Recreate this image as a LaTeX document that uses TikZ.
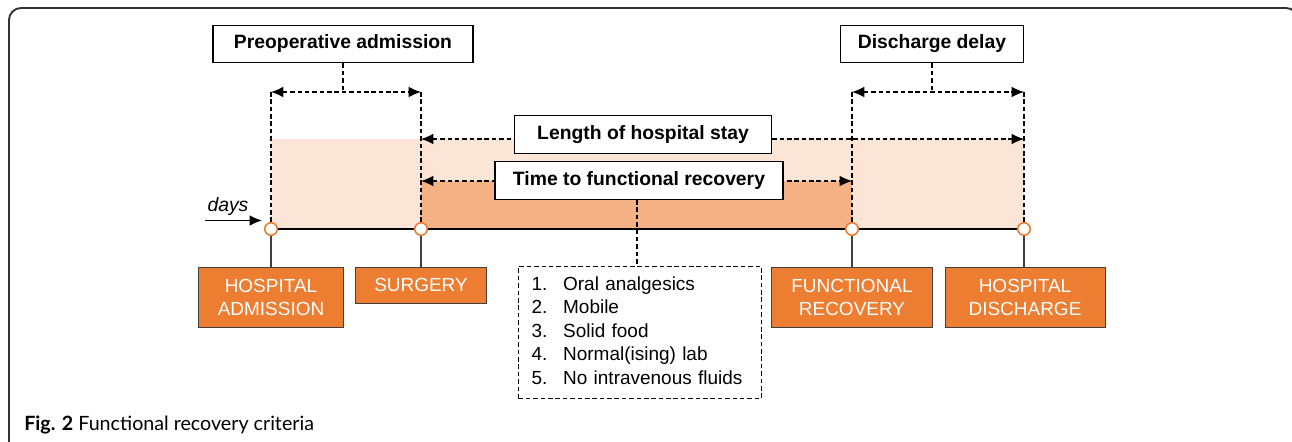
\documentclass[tikz,border=0pt]{standalone}
\usepackage{fontspec}
\setmainfont{Liberation Sans}
\newfontfamily\capfont{Lato}
\usetikzlibrary{arrows.meta}
\definecolor{orng}{HTML}{ED7D31}
\definecolor{lpeach}{HTML}{FBE5D6}
\definecolor{dpeach}{HTML}{F4B183}
\definecolor{edge}{HTML}{404040}
\tikzset{
	tag/.style      = {draw, line width=0.8pt, fill=white, inner sep=0pt,
		minimum height=0.75cm, font=\fontsize{11}{13}\selectfont\bfseries},
	event/.style    = {draw=edge, fill=orng, text=white, align=center,
		anchor=north, inner sep=0pt, font=\fontsize{10.8}{13}\selectfont},
	dot/.style      = {circle, draw=orng, fill=white, line width=0.9pt,
		inner sep=0pt, minimum size=0.25cm},
	guide/.style    = {dash pattern=on 2.6pt off 1.6pt, line width=0.6pt},
	span/.style     = {guide, <->},
	crit/.style     = {draw, guide, anchor=north, text width=4.34cm, align=left,
		inner xsep=7.4pt, minimum height=2.64cm,
		font=\fontsize{10.8}{13.4}\selectfont},
	frame/.style    = {draw=black!80, line width=1.1pt, rounded corners=0.24cm}
}

\begin{document}
\begin{tikzpicture}[x=0.02cm, y=-0.02cm, >={Latex[length=7pt,width=6pt]}]
	\useasboundingbox (0,0) rectangle (1292,442);
	\draw[frame] (9,450) -- (9,8) -- (1298,8) -- (1298,450);
	
	% shaded stays
	\fill[lpeach] (271,139) rectangle (1024,229);
	\fill[dpeach] (421,181) rectangle (852,229);
	
	\coordinate (t1up) at (271,92);
	\coordinate (t2up) at (421,92);
	\coordinate (t3up) at (852,92);
	\coordinate (t4up) at (1024,92);
	\coordinate (s1) at (421,139);
	\coordinate (s2) at (1024,139);
	\coordinate (r1) at (421,181);
	\coordinate (r2) at (852,181);
	
	\draw
	node at (271,229) [dot] (t1) {}
	node at (421,229) [dot] (t2) {}
	node at (852,229) [dot] (t3) {}
	node at (1024,229) [dot] (t4) {};
	
	\draw[guide] (t1) -- (t1up);
	\draw[guide] (t2) -- (t2up);
	\draw[guide] (t3) -- (t3up);
	\draw[guide] (t4) -- (t4up);
	
	\draw[line width=1.6pt] (t1) -- (t2) (t2) -- (t3) (t3) -- (t4);
	
	\draw[span] (t1up) -- (t2up);
	\draw[span] (t3up) -- (t4up);
	\draw[span] (s1) -- (s2);
	\draw[span] (r1) -- (r2);
	
	\draw
	node at (343,44) [tag, minimum width=5.2cm] (preop) {Preoperative admission}
	node at (932,44) [tag, minimum width=3.66cm] (delay) {Discharge delay}
	node at (643,134.5) [tag, minimum width=5.14cm] (stay) {Length of hospital stay}
	node at (639,180.5) [tag, minimum width=5.76cm] (recov) {Time to functional recovery};
	
	\draw[guide] (preop.south) -- (preop.south |- t1up);
	\draw[guide] (delay.south) -- (delay.south |- t3up);
	
	\draw
	node at (640,266) [crit] (list) {\begin{tabular}{@{}l@{\hspace{9pt}}l@{}}
			1. & Oral analgesics\\
			2. & Mobile\\
			3. & Solid food\\
			4. & Normal(ising) lab\\
			5. & No intravenous fluids
		\end{tabular}};
	\draw[guide] (recov.south -| 637,0) -- (list.north -| 637,0);
	
	\draw
	node at (271,267) [event, minimum width=2.9cm, minimum height=1.2cm] (adm) {HOSPITAL\\ADMISSION}
	node at (421,267) [event, minimum width=2.62cm, minimum height=0.72cm] (surg) {SURGERY}
	node at (852,267) [event, minimum width=3.22cm, minimum height=1.2cm] (func) {FUNCTIONAL\\RECOVERY}
	node at (1025,267) [event, minimum width=3.2cm, minimum height=1.2cm] (dis) {HOSPITAL\\DISCHARGE};
	
	\draw[edge, line width=0.8pt] (t1) -- (adm);
	\draw[edge, line width=0.8pt] (t2) -- (surg);
	\draw[edge, line width=0.8pt] (t3) -- (func);
	\draw[edge, line width=0.8pt] (t4) -- (dis.north -| t4);
	
	% time axis
	\coordinate (d0) at (205,220.5);
	\coordinate (d1) at (262,220.5);
	\draw[->, line width=0.7pt] (d0) -- (d1);
	\draw node at (228,207) [font=\fontsize{11}{13}\selectfont\itshape] (days) {days};
	
	\draw node at (24,425) [anchor=west, inner sep=0pt, font=\capfont\fontsize{11.2}{13}\selectfont] (fig) {\textbf{Fig. 2} Functional recovery criteria};
\end{tikzpicture}
\end{document}
